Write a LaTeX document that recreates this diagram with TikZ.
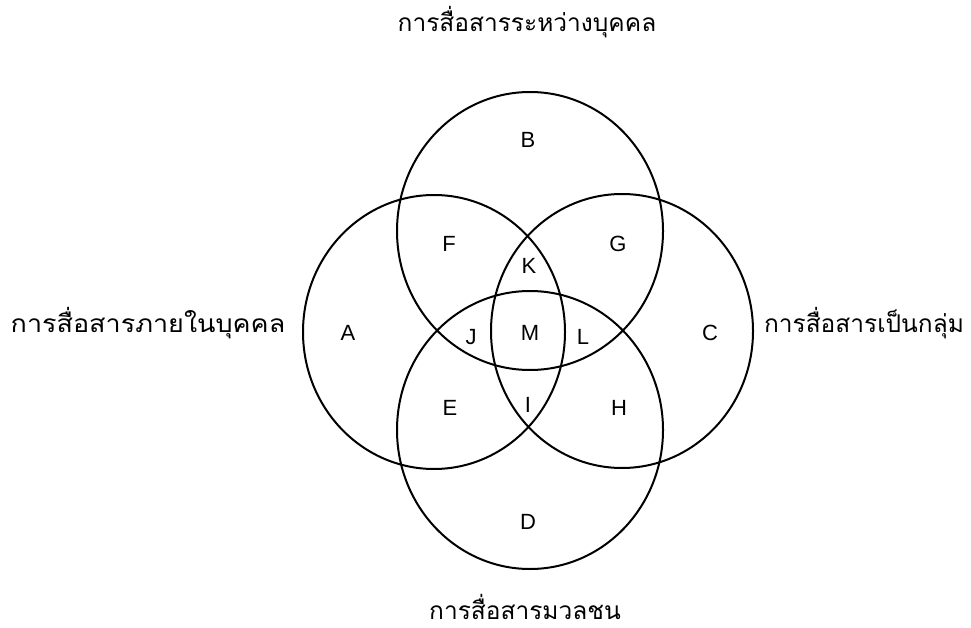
\documentclass[tikz,border=0pt]{standalone}
\usepackage{fontspec}
\setmainfont{Liberation Sans}
\newfontfamily\thaifont[Script=Thai]{Loma}
\begin{document}
\begin{tikzpicture}[x=1pt,y=-1pt,
  ring/.style={draw=black,line width=2pt},
  lbl/.style={font=\fontsize{22}{26}\selectfont,inner sep=0pt,anchor=center},
  thai/.style={font=\thaifont\fontsize{24.5}{28}\selectfont,inner sep=0pt,anchor=base}]
\useasboundingbox (0,0) rectangle (971,628);
\draw[ring] (530,231) ellipse [x radius=133,y radius=139];
\draw[ring] (434,332) ellipse [x radius=131,y radius=137];
\draw[ring] (622,331) ellipse [x radius=131,y radius=137];
\draw[ring] (530,430) ellipse [x radius=133,y radius=139];
\node[lbl] (B) at (528,140) {B};
\node[lbl] (F) at (449,244) {F};
\node[lbl] (G) at (618,244) {G};
\node[lbl] (K) at (529,266) {K};
\node[lbl] (A) at (348,333) {A};
\node[lbl] (J) at (471,337) {J};
\node[lbl] (M) at (530,333) {M};
\node[lbl] (L) at (583,337) {L};
\node[lbl] (C) at (710,333) {C};
\node[lbl] (E) at (450,408) {E};
\node[lbl] (I) at (528,405) {I};
\node[lbl] (H) at (619,408) {H};
\node[lbl] (D) at (528,522) {D};
\node[thai] (t1) at (527,32) {การสื่อสารระหว่างบุคคล};
\node[thai] (t2) at (148,332) {\scalebox{1.1}[1]{การสื่อสารภายในบุคคล}};
\node[thai] (t3) at (864,332) {การสื่อสารเป็นกลุ่ม};
\node[thai] (t4) at (525,619) {การสื่อสารมวลชน};
\end{tikzpicture}
\end{document}
